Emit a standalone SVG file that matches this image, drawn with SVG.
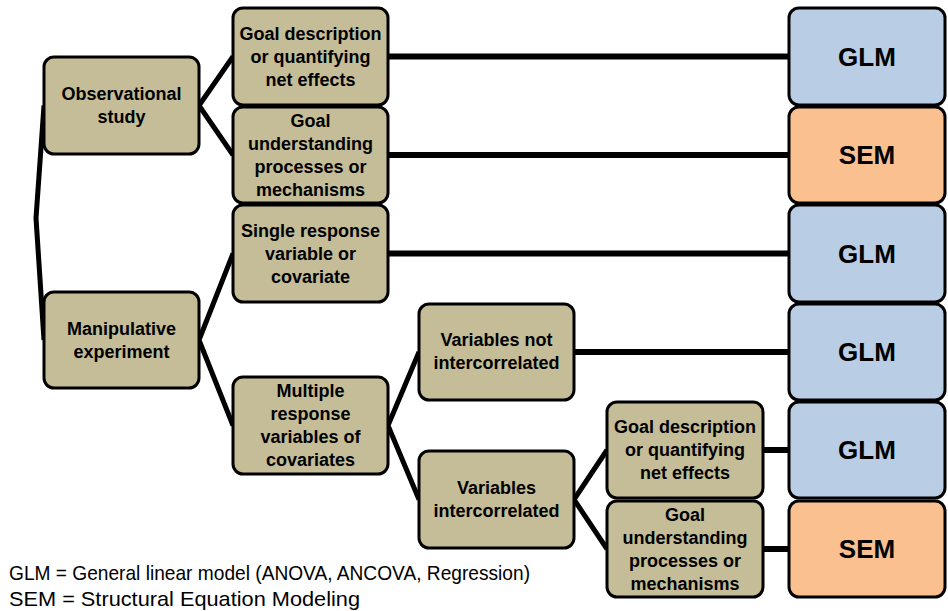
<svg xmlns="http://www.w3.org/2000/svg" width="948" height="611" viewBox="0 0 948 611">
  <style>
    .box { stroke: #000; stroke-width: 3; }
    .tan { fill: #c4bd97; }
    .blue { fill: #b9cde5; }
    .orange { fill: #fac090; }
    .lbl { font-family: "Liberation Sans", Arial, sans-serif; font-weight: bold; font-size: 18px; text-anchor: middle; fill: #000; }
    .model { font-family: "Liberation Sans", Arial, sans-serif; font-weight: bold; font-size: 26px; text-anchor: middle; fill: #000; }
    .legend { font-family: "Liberation Sans", Arial, sans-serif; font-size: 21px; fill: #000; }
    .conn { stroke: #000; fill: none; stroke-linecap: butt; stroke-linejoin: round; }
    .branch { stroke-width: 5; }
    .link { stroke-width: 6; }
  </style>

  <!-- connectors -->
  <g id="connectors" class="conn">
    <polyline class="branch" points="44,105.5 36,218 44,340"/>
    <polyline class="branch" points="233,56.5 199,105.5 233,155"/>
    <polyline class="branch" points="233,253.5 199,340 233,425.5"/>
    <polyline class="branch" points="419,352 388,425.5 419,499.5"/>
    <polyline class="branch" points="607,450 574,499.5 607,549"/>
    <line class="link" x1="388" y1="56.5" x2="789" y2="56.5"/>
    <line class="link" x1="388" y1="155" x2="789" y2="155"/>
    <line class="link" x1="388" y1="253.5" x2="789" y2="253.5"/>
    <line class="link" x1="574" y1="352" x2="789" y2="352"/>
    <line class="link" x1="763" y1="450" x2="789" y2="450"/>
    <line class="link" x1="763" y1="549" x2="789" y2="549"/>
  </g>

  <!-- study design -->
  <g id="observational">
    <rect class="box tan" x="44" y="57" width="155" height="97" rx="10"/>
    <text class="lbl" x="121.5" y="100">Observational</text>
    <text class="lbl" x="121.5" y="123">study</text>
  </g>
  <g id="manipulative">
    <rect class="box tan" x="44" y="292" width="155" height="96" rx="10"/>
    <text class="lbl" x="121.5" y="335">Manipulative</text>
    <text class="lbl" x="121.5" y="358">experiment</text>
  </g>

  <!-- second level -->
  <g id="goal-desc-1">
    <rect class="box tan" x="233" y="8" width="155" height="97" rx="10"/>
    <text class="lbl" x="310.5" y="40">Goal description</text>
    <text class="lbl" x="310.5" y="63">or quantifying</text>
    <text class="lbl" x="310.5" y="86">net effects</text>
  </g>
  <g id="goal-und-1">
    <rect class="box tan" x="233" y="107" width="155" height="96" rx="10"/>
    <text class="lbl" x="310.5" y="127">Goal</text>
    <text class="lbl" x="310.5" y="150">understanding</text>
    <text class="lbl" x="310.5" y="173">processes or</text>
    <text class="lbl" x="310.5" y="196">mechanisms</text>
  </g>
  <g id="single-response">
    <rect class="box tan" x="233" y="205" width="155" height="97" rx="10"/>
    <text class="lbl" x="310.5" y="237">Single response</text>
    <text class="lbl" x="310.5" y="260">variable or</text>
    <text class="lbl" x="310.5" y="283">covariate</text>
  </g>
  <g id="multiple-response">
    <rect class="box tan" x="233" y="377" width="155" height="97" rx="10"/>
    <text class="lbl" x="310.5" y="397">Multiple</text>
    <text class="lbl" x="310.5" y="420">response</text>
    <text class="lbl" x="310.5" y="443">variables of</text>
    <text class="lbl" x="310.5" y="466">covariates</text>
  </g>

  <!-- third level -->
  <g id="not-intercorrelated">
    <rect class="box tan" x="419" y="304" width="155" height="96" rx="10"/>
    <text class="lbl" x="496.5" y="346">Variables not</text>
    <text class="lbl" x="496.5" y="369">intercorrelated</text>
  </g>
  <g id="intercorrelated">
    <rect class="box tan" x="419" y="451" width="155" height="97" rx="10"/>
    <text class="lbl" x="496.5" y="494">Variables</text>
    <text class="lbl" x="496.5" y="517">intercorrelated</text>
  </g>

  <!-- fourth level -->
  <g id="goal-desc-2">
    <rect class="box tan" x="607" y="402" width="156" height="96" rx="10"/>
    <text class="lbl" x="685" y="433">Goal description</text>
    <text class="lbl" x="685" y="456">or quantifying</text>
    <text class="lbl" x="685" y="479">net effects</text>
  </g>
  <g id="goal-und-2">
    <rect class="box tan" x="607" y="501" width="156" height="96" rx="10"/>
    <text class="lbl" x="685" y="521">Goal</text>
    <text class="lbl" x="685" y="544">understanding</text>
    <text class="lbl" x="685" y="567">processes or</text>
    <text class="lbl" x="685" y="590">mechanisms</text>
  </g>

  <!-- models -->
  <g id="model-1">
    <rect class="box blue" x="789" y="8" width="156" height="97" rx="10"/>
    <text class="model" x="867" y="66">GLM</text>
  </g>
  <g id="model-2">
    <rect class="box orange" x="789" y="107" width="156" height="96" rx="10"/>
    <text class="model" x="867" y="164">SEM</text>
  </g>
  <g id="model-3">
    <rect class="box blue" x="789" y="205" width="156" height="97" rx="10"/>
    <text class="model" x="867" y="263">GLM</text>
  </g>
  <g id="model-4">
    <rect class="box blue" x="789" y="304" width="156" height="96" rx="10"/>
    <text class="model" x="867" y="361">GLM</text>
  </g>
  <g id="model-5">
    <rect class="box blue" x="789" y="402" width="156" height="96" rx="10"/>
    <text class="model" x="867" y="459">GLM</text>
  </g>
  <g id="model-6">
    <rect class="box orange" x="789" y="501" width="156" height="96" rx="10"/>
    <text class="model" x="867" y="558">SEM</text>
  </g>

  <!-- legend -->
  <g id="legend">
    <text class="legend" x="9" y="580" textLength="521" lengthAdjust="spacingAndGlyphs">GLM = General linear model (ANOVA, ANCOVA, Regression)</text>
    <text class="legend" x="9" y="606" textLength="351" lengthAdjust="spacingAndGlyphs">SEM = Structural Equation Modeling</text>
  </g>
</svg>
